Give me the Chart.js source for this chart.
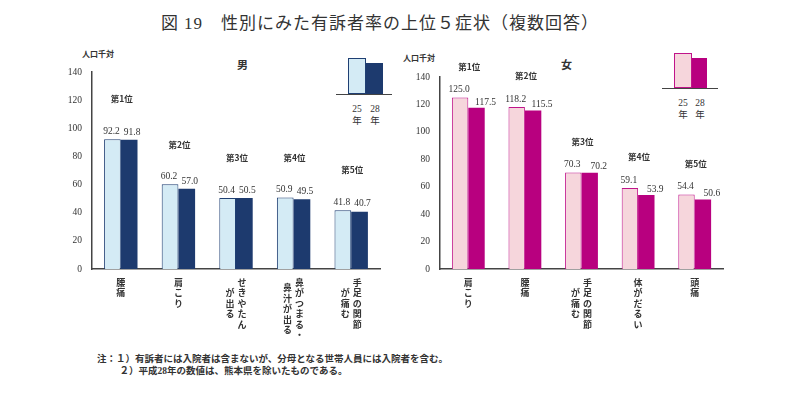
<!DOCTYPE html>
<html lang="ja">
<head>
<meta charset="utf-8">
<title>図19 性別にみた有訴者率の上位5症状</title>
<script src="https://cdn.jsdelivr.net/npm/chart.js"></script>
<style>
  body { margin: 0; width: 800px; height: 399px; background: #fff; position: relative; overflow: hidden;
         font-family: "Liberation Serif", "Noto Sans CJK JP", serif; color: #333; }
  .abs { position: absolute; }
  #title { left: 0; width: 760px; top: 9px; text-align: center; font-size: 17px; color: #333; letter-spacing: 1px; }
  .unit { font-size: 8px; font-weight: bold; }
  .sex { font-size: 11px; font-weight: bold; }
  .legbar { position: absolute; box-sizing: border-box; }
  .legline { position: absolute; height: 1px; background: #444; }
  .legtxt { position: absolute; font-size: 9.5px; text-align: center; width: 16px; line-height: 12px; }
  .note { font-size: 9.5px; font-weight: bold; left: 97px; }
</style>
</head>
<body>
<div id="title" class="abs">図 19　性別にみた有訴者率の上位５症状（複数回答）</div>

<div class="abs unit" style="left:82px;top:48px">人口千対</div>
<div class="abs unit" style="left:403px;top:52px">人口千対</div>
<div class="abs sex" style="left:237px;top:56px">男</div>
<div class="abs sex" style="left:561px;top:56px">女</div>

<!-- male legend -->
<div class="legbar" style="left:348px;top:58px;width:18px;height:36px;background:#d4ebf5;border:1px solid #1f3f73"></div>
<div class="legbar" style="left:366px;top:63px;width:17px;height:31px;background:#1d3a6e"></div>
<div class="legline" style="left:336px;top:94px;width:56px"></div>
<div class="legtxt" style="left:349px;top:103px">25<br>年</div>
<div class="legtxt" style="left:367px;top:103px">28<br>年</div>

<!-- female legend -->
<div class="legbar" style="left:674px;top:53px;width:18px;height:35px;background:#f6d6dc;border:1px solid #c0148a"></div>
<div class="legbar" style="left:692px;top:58px;width:15px;height:30px;background:#b8007f"></div>
<div class="legline" style="left:662px;top:88px;width:56px"></div>
<div class="legtxt" style="left:675px;top:97px">25<br>年</div>
<div class="legtxt" style="left:692px;top:97px">28<br>年</div>

<div class="abs" style="left:40px;top:40px;width:345px;height:300px"><canvas id="male"></canvas></div>
<div class="abs" style="left:395px;top:40px;width:335px;height:300px"><canvas id="female"></canvas></div>

<div class="abs note" style="top:351px">注：１）有訴者には入院者は含まないが、分母となる世帯人員には入院者を含む。</div>
<div class="abs note" style="top:363px;left:110px">　２）平成28年の数値は、熊本県を除いたものである。</div>

<script>
const ranks = ["第1位", "第2位", "第3位", "第4位", "第5位"];

const maleSymptoms = [["腰痛"], ["肩こり"], ["せきやたん", "が出る"], ["鼻がつまる・", "鼻汁が出る"], ["手足の関節", "が痛む"]];
const male25 = [92.2, 60.2, 50.4, 50.9, 41.8];
const male28 = [91.8, 57.0, 50.5, 49.5, 40.7];

const femaleSymptoms = [["肩こり"], ["腰痛"], ["手足の関節", "が痛む"], ["体がだるい"], ["頭痛"]];
const female25 = [125.0, 118.2, 70.3, 59.1, 54.4];
const female28 = [117.5, 115.5, 70.2, 53.9, 50.6];

const yTicks = [0, 20, 40, 60, 80, 100, 120, 140];

const serif = '"Liberation Serif", "Noto Sans CJK JP", serif';
const jp = '"Noto Sans CJK JP", sans-serif';

// value labels, rank labels and vertical category labels
const labelPlugin = {
  id: "labels",
  afterDatasetsDraw(chart, args, opts) {
    const ctx = chart.ctx;
    ctx.save();
    ctx.fillStyle = "#333";
    // values
    ctx.font = "9.5px " + serif;
    ctx.textAlign = "center";
    ctx.textBaseline = "bottom";
    chart.data.datasets.forEach((ds, di) => {
      chart.getDatasetMeta(di).data.forEach((el, i) => {
        const dx = di === 0 ? -1 : opts.shift;
        const dy = di === 0 ? 3 : opts.lift;
        ctx.fillText(ds.data[i].toFixed(1), el.x + dx, el.y - dy);
      });
    });
    // ranks
    const xs = chart.scales.x;
    ctx.font = "bold 8.5px " + jp;
    ctx.textBaseline = "middle";
    const m0 = chart.getDatasetMeta(0).data;
    const m1 = chart.getDatasetMeta(1).data;
    ranks.forEach((r, i) => {
      const top = Math.min(m0[i].y, m1[i].y);
      ctx.fillText(r, xs.getPixelForTick(i) + 1, top - opts.rankGap);
    });
    // vertical category labels
    ctx.font = "bold 9px " + jp;
    ctx.textBaseline = "top";
    const lineH = 10.5, colGap = 12;
    const base = chart.chartArea.bottom + 9;
    opts.cats.forEach((cols, i) => {
      const cx = xs.getPixelForTick(i);
      const n = cols.length;
      const maxLen = Math.max(...cols.map(c => [...c].length));
      cols.forEach((col, ci) => {
        const x = cx + ((n - 1) / 2 - ci) * colGap;
        const chars = [...col];
        const y0 = base + (maxLen - chars.length) * lineH / 2;
        chars.forEach((ch, k) => ctx.fillText(ch, x, y0 + k * lineH));
      });
    });
    ctx.restore();
  }
};

function makeChart(id, cats, d25, d28, c, pad, yWidth, shift, lift, rankGap) {
  return new Chart(document.getElementById(id), {
    type: "bar",
    data: {
      labels: cats.map(c => c.join("")),
      datasets: [
        { data: d25, backgroundColor: c.light, borderColor: c.edge, borderWidth: 1, borderSkipped: "bottom" },
        { data: d28, backgroundColor: c.dark, borderColor: c.dark, borderWidth: 0 }
      ]
    },
    options: {
      responsive: true,
      maintainAspectRatio: false,
      animation: false,
      layout: { padding: pad },
      datasets: { bar: { barPercentage: 1, categoryPercentage: 0.58 } },
      plugins: {
        legend: { display: false },
        tooltip: { enabled: false },
        labels: { cats: cats, shift: shift, lift: lift, rankGap: rankGap }
      },
      scales: {
        x: {
          grid: { display: false, drawTicks: false },
          border: { color: "#444", width: 1.5 },
          ticks: { display: false },
          afterFit(s) { s.height = 0; }
        },
        y: {
          min: 0, max: 140,
          afterBuildTicks(s) { s.ticks = yTicks.map(v => ({ value: v })); },
          grid: { display: false, drawTicks: false },
          border: { color: "#444", width: 1.5 },
          ticks: { padding: 10, color: "#333", font: { size: 9.5, family: serif } },
          afterFit(s) { s.width = yWidth; }
        }
      }
    },
    plugins: [labelPlugin]
  });
}

makeChart("male", maleSymptoms, male25, male28,
  { light: "#d4ebf5", edge: "#1f3f73", dark: "#1d3a6e" },
  { top: 32, bottom: 71, left: 0, right: 5 }, 52, 3, 3, 40);

makeChart("female", femaleSymptoms, female25, female28,
  { light: "#f6d6dc", edge: "#c0148a", dark: "#b8007f" },
  { top: 37, bottom: 71, left: 0, right: 7 }, 45, 9, 1, 31);
</script>
</body>
</html>
